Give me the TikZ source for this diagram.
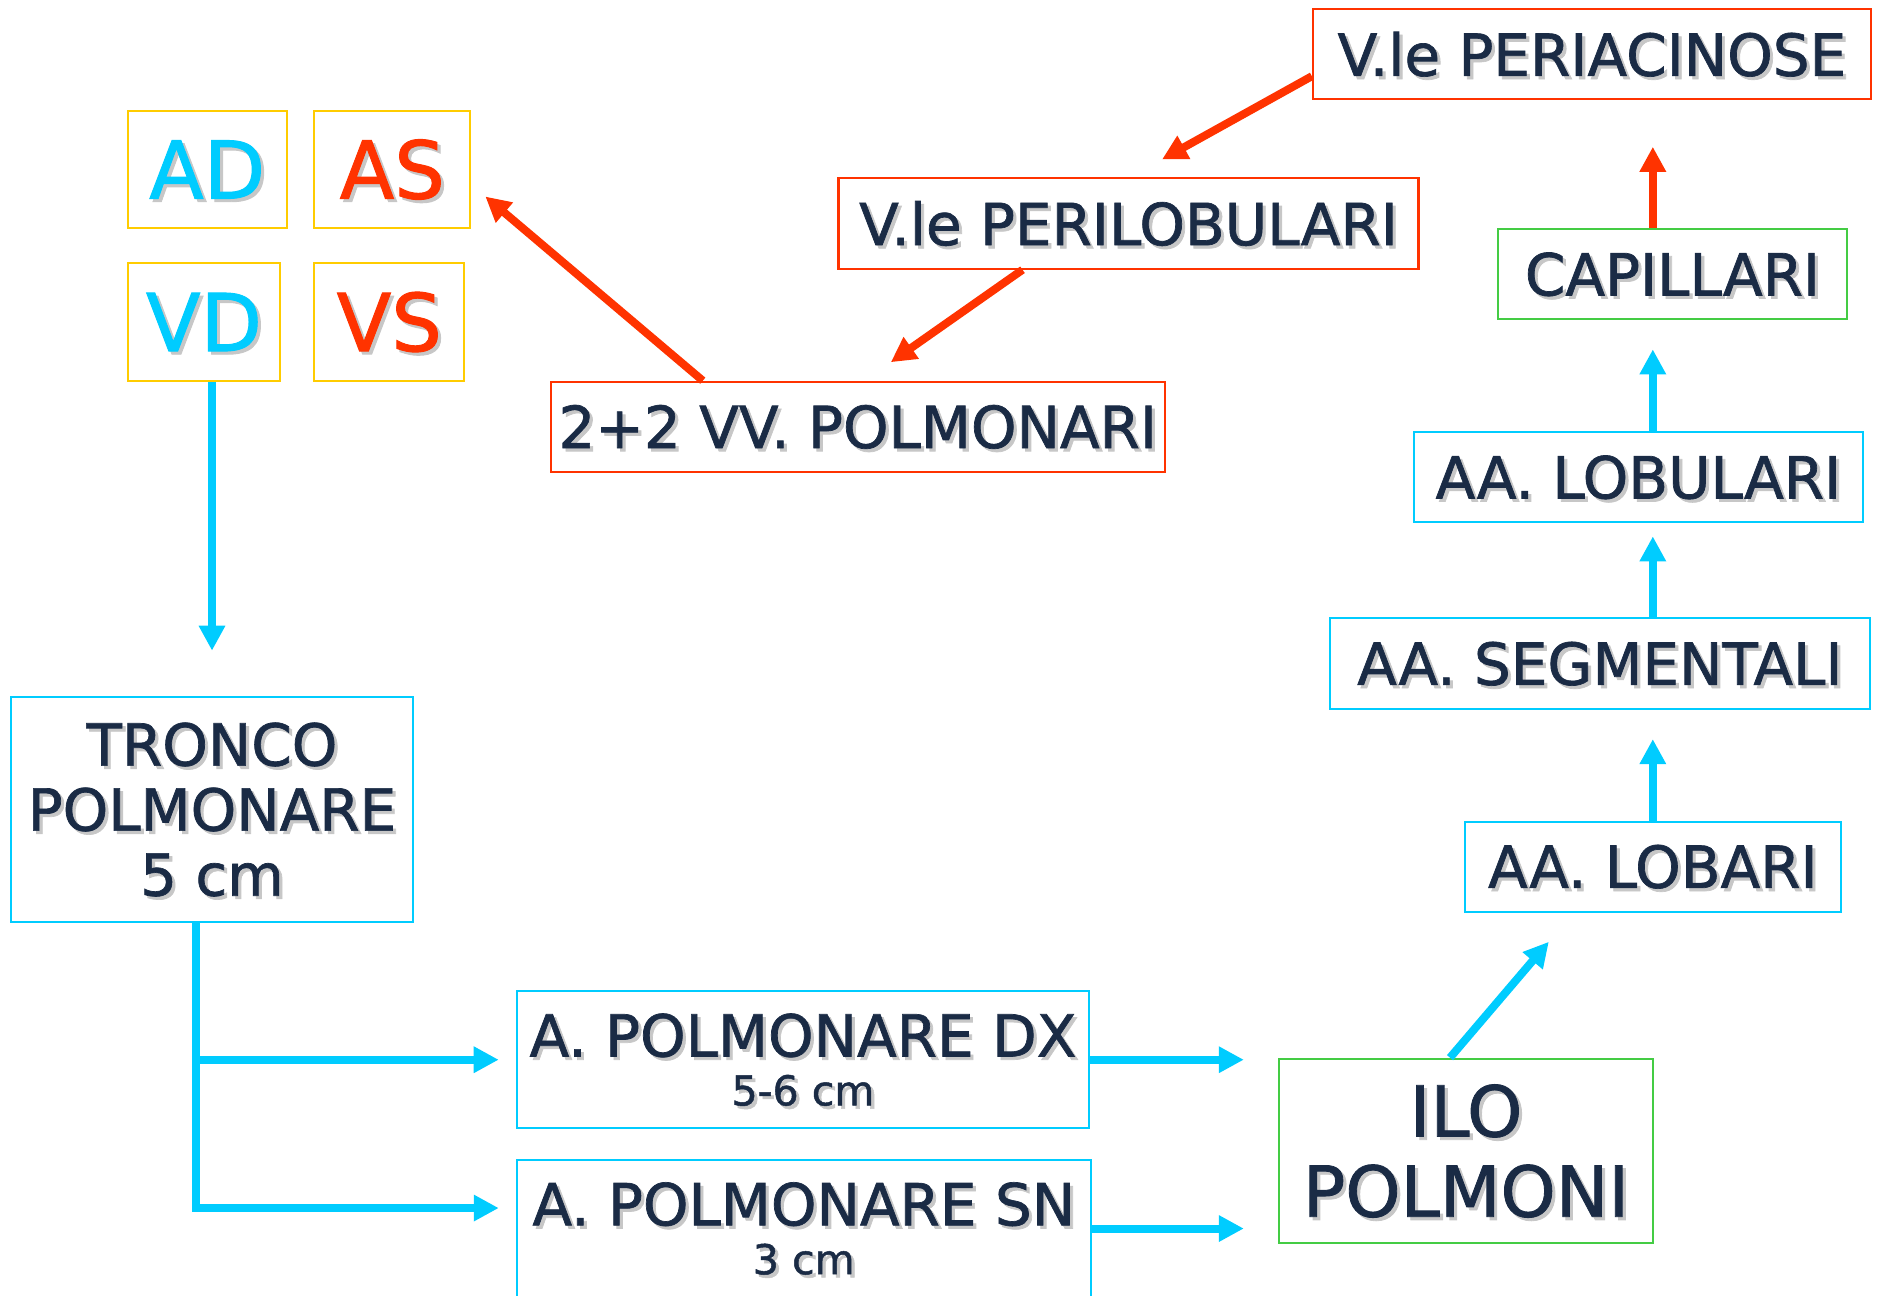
\documentclass[tikz,border=0pt]{standalone}
\usepackage{fontspec}
\setmainfont{DejaVu Sans}[FakeBold=1.2]
\usetikzlibrary{arrows.meta}

\definecolor{ink}{HTML}{1A2B45}
\definecolor{artcol}{HTML}{00CCFF}
\definecolor{veincol}{HTML}{FF3300}
\definecolor{capcol}{HTML}{44CC44}
\definecolor{heartcol}{HTML}{FFCC00}

\newcommand\boxfont{\fontsize{16.5}{18.5}\selectfont}
\newcommand\cmfont{\fontsize{11.7}{14}\selectfont}
\newcommand\ilofont{\fontsize{20}{22.8}\selectfont}
\newcommand\heartfont{\fontsize{22.7}{24}\selectfont}
% soft grey copy of a line of text, set behind it
\newcommand\sh[1]{\leavevmode\rlap{\kern0.9pt\raisebox{-0.9pt}[0pt][0pt]{\textcolor{black!22}{#1}}}#1}

\tikzset{
  box/.style={draw, line width=0.6pt, text=ink, inner sep=0pt, font=\boxfont, align=center},
  artery/.style={box, draw=artcol},
  vein/.style={box, draw=veincol},
  exchange/.style={box, draw=capcol},
  heart/.style={box, draw=heartcol, font=\heartfont},
  flow/.style={line width=0.08cm, -{Triangle[length=0.25cm,width=0.25cm]}},
  blueflow/.style={flow, draw=artcol, color=artcol},
  redflow/.style={flow, draw=veincol, color=veincol},
}

\begin{document}
\begin{tikzpicture}
  \useasboundingbox (0,0) rectangle (18.89,-12.95);

  % heart chambers
  \node[heart, text=artcol, minimum width=1.59cm, minimum height=1.176cm] (AD) at (2.072,-1.695) {\sh{AD}};
  \node[heart, text=veincol, minimum width=1.56cm, minimum height=1.176cm] (AS) at (3.923,-1.695) {\sh{AS}};
  \node[heart, text=artcol, minimum width=1.526cm, minimum height=1.18cm] (VD) at (2.04,-3.22) {\sh{VD}};
  \node[heart, text=veincol, minimum width=1.50cm, minimum height=1.18cm] (VS) at (3.893,-3.22) {\sh{VS}};

  % arterial side
  \node[artery, minimum width=4.026cm, minimum height=2.256cm] (tronco) at (2.12,-8.095) {\sh{TRONCO}\\\sh{POLMONARE}\\\sh{5 cm}};
  \node[artery, minimum width=5.725cm, minimum height=1.373cm] (DX) at (8.03,-10.597) {\sh{A. POLMONARE DX}\\[-4.6pt]{\cmfont\sh{5-6 cm}}};
  \node[artery, minimum width=5.74cm, minimum height=1.373cm] (SN) at (8.038,-12.285) {\sh{A. POLMONARE SN}\\[-4.6pt]{\cmfont\sh{3 cm}}};
  \node[exchange, font=\ilofont, minimum width=3.743cm, minimum height=1.846cm] (ilo) at (14.66,-11.51) {\sh{ILO}\\\sh{POLMONI}};
  \node[artery, minimum width=3.76cm, minimum height=0.90cm] (lobari) at (16.528,-8.667) {\sh{AA. LOBARI}};
  \node[artery, minimum width=5.405cm, minimum height=0.907cm] (segmentali) at (15.998,-6.637) {\sh{AA. SEGMENTALI}};
  \node[artery, minimum width=4.493cm, minimum height=0.90cm] (lobulari) at (16.384,-4.773) {\sh{AA. LOBULARI}};
  \node[exchange, minimum width=3.484cm, minimum height=0.90cm] (capillari) at (16.725,-2.743) {\sh{CAPILLARI}};

  % venous side
  \node[vein, minimum width=5.58cm, minimum height=0.90cm] (periacinose) at (15.919,-0.542) {\sh{V.le PERIACINOSE}};
  \node[vein, minimum width=5.80cm, minimum height=0.904cm] (perilobulari) at (11.285,-2.235) {\sh{V.le PERILOBULARI}};
  \node[vein, minimum width=6.135cm, minimum height=0.903cm] (vene) at (8.578,-4.269) {\sh{2+2 VV. POLMONARI}};

  % blood flow
  \coordinate (fork) at ([xshift=-0.165cm]tronco.south);
  \draw[blueflow, shorten >=0.45cm] (VD.south -| tronco.north) -- (tronco.north);
  \draw[blueflow, shorten >=0.17cm] (fork) |- (DX.west);
  \draw[blueflow, shorten >=0.17cm] (fork) |- ([yshift=0.205cm]SN.west);
  \draw[blueflow, shorten >=0.34cm] (DX.east) -- (DX.east -| ilo.west);
  \draw[blueflow, shorten >=0.34cm] (SN.east) -- (SN.east -| ilo.west);
  \draw[blueflow] ([xshift=-0.16cm]ilo.north) -- ([xshift=-1.04cm,yshift=-0.29cm]lobari.south);
  \draw[blueflow, shorten >=0.29cm] (lobari.north) -- (lobari.north |- segmentali.south);
  \draw[blueflow, shorten >=0.13cm] (segmentali.north -| lobari.north) -- (lobulari.south -| lobari.north);
  \draw[blueflow, shorten >=0.29cm] (lobulari.north -| lobari.north) -- (capillari.south -| lobari.north);
  \draw[redflow, shorten >=0.465cm] (capillari.north -| lobari.north) -- (periacinose.south -| lobari.north);
  \draw[redflow] ([yshift=-0.22cm]periacinose.west) -- ([xshift=0.335cm,yshift=0.178cm]perilobulari.north);
  \draw[redflow] ([xshift=-1.06cm]perilobulari.south) -- ([xshift=0.33cm,yshift=0.185cm]vene.north);
  \draw[redflow] ([xshift=-1.55cm]vene.north) -- ([xshift=0.14cm,yshift=-0.27cm]AS.east);
\end{tikzpicture}
\end{document}
